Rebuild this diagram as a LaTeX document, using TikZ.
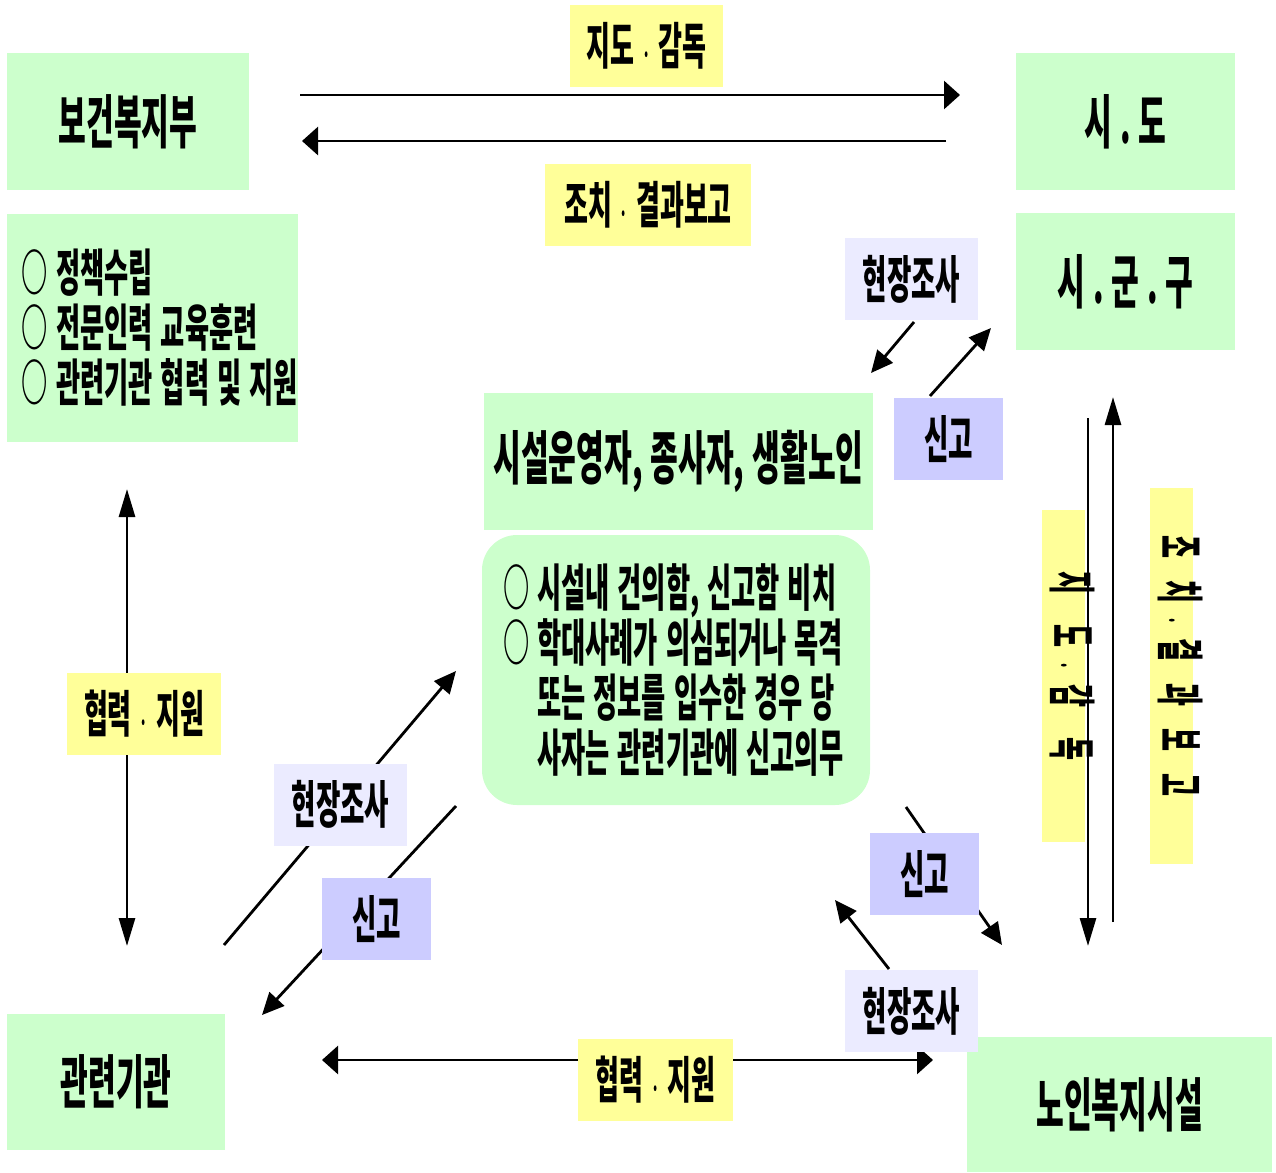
\documentclass[tikz,border=0pt]{standalone}
\usepackage{fontspec}
\newfontfamily\kr{Noto Sans CJK KR}[FakeStretch=0.52]
\usetikzlibrary{arrows.meta}
\definecolor{bgreen}{HTML}{CCFFCC}
\definecolor{lyellow}{HTML}{FFFF99}
\definecolor{lviolet}{HTML}{EBEBFF}
\definecolor{mviolet}{HTML}{CCCCFF}
\newcommand\kdot{{\fontsize{26bp}{26bp}\selectfont ·}}
\newcommand\ksp{\hspace{8bp}}
\begin{document}
\begin{tikzpicture}[x=1bp,y=-1bp,
  gbox/.style={fill=bgreen,draw=none,inner sep=0pt,align=center,
    font=\kr\bfseries\fontsize{58bp}{62bp}\selectfont},
  ylab/.style={fill=lyellow,draw=none,inner sep=0pt,minimum height=82bp,
    font=\kr\bfseries\fontsize{50bp}{54bp}\selectfont},
  hjlab/.style={fill=lviolet,draw=none,inner sep=0pt,minimum width=133bp,minimum height=82bp,
    font=\kr\bfseries\fontsize{51bp}{54bp}\selectfont},
  sglab/.style={fill=mviolet,draw=none,inner sep=0pt,minimum width=109bp,minimum height=82bp,
    font=\kr\bfseries\fontsize{51bp}{54bp}\selectfont},
  yvlab/.style={fill=lyellow,draw=none,inner sep=0pt,rotate=-90,minimum height=43bp,
    text height=20bp,text depth=1bp,
    font=\kr\bfseries\fontsize{48bp}{50bp}\selectfont},
  harrow/.style={line width=2.8bp,-{Triangle[length=16bp,width=28bp]}},
  hdarrow/.style={line width=2.8bp,{Triangle[length=16bp,width=28bp]}-{Triangle[length=16bp,width=28bp]}},
  varrow/.style={line width=2.8bp,-{Triangle[length=28bp,width=16bp]}},
  vdarrow/.style={line width=2.8bp,{Triangle[length=28bp,width=16bp]}-{Triangle[length=28bp,width=16bp]}},
  darrow/.style={line width=2.8bp,-{Triangle[length=22bp,width=20bp]}}
]
\useasboundingbox (0,0) rectangle (1276,1173);

% main boxes
\node[gbox,minimum width=242bp,minimum height=137bp] (mohw) at (128,121.5) {보건복지부};
\node[gbox,minimum width=219bp,minimum height=137bp] (sido) at (1125.5,121.5) {시\ksp.\ksp 도};
\node[gbox,minimum width=219bp,minimum height=137bp] (sgg) at (1125.5,281.5) {시\ksp.\ksp 군\ksp.\ksp 구};
\node[gbox,minimum width=291bp,minimum height=228bp,text width=261bp,align=left,
  font=\kr\bfseries\fontsize{50.5bp}{55bp}\selectfont] (policy) at (152.5,328)
  {\mbox{○\ksp 정책수립}\\ \mbox{○\ksp 전문인력\ksp 교육훈련}\\ \mbox{○\ksp 관련기관\ksp 협력\ksp 및\ksp 지원}};
\node[gbox,minimum width=389bp,minimum height=137bp] (staff) at (678.5,461.5) {시설운영자,\ksp 종사자,\ksp 생활노인};
\node[gbox,rounded corners=35bp,minimum width=388bp,minimum height=270bp,text width=346bp,align=left,
  font=\kr\bfseries\fontsize{50.5bp}{55bp}\selectfont] (duty) at (676,670)
  {\mbox{○\ksp 시설내\ksp 건의함,\ksp 신고함\ksp 비치}\\ \mbox{○\ksp 학대사례가\ksp 의심되거나\ksp 목격}\\
   \mbox{\phantom{○}\ksp 또는\ksp 정보를\ksp 입수한\ksp 경우\ksp 당}\\ \mbox{\phantom{○}\ksp 사자는\ksp 관련기관에\ksp 신고의무}};
\node[gbox,minimum width=218bp,minimum height=136bp] (agency) at (116,1082) {관련기관};
\node[gbox,minimum width=305bp,minimum height=135bp] (facility) at (1119.5,1104.5) {노인복지시설};

% connector end points
\coordinate (t1s) at (300,95);   \coordinate (t1e) at (960,95);
\coordinate (t2s) at (946,141);  \coordinate (t2e) at (302,141);
\coordinate (r1s) at (914,322);  \coordinate (r1e) at (871,373);
\coordinate (r2s) at (930,396);  \coordinate (r2e) at (991,328);
\coordinate (v1s) at (1088,418); \coordinate (v1e) at (1088,946);
\coordinate (v2s) at (1113,922); \coordinate (v2e) at (1113,397);
\coordinate (l1s) at (127,489);  \coordinate (l1e) at (127,946);
\coordinate (d1s) at (224,945);  \coordinate (d1e) at (456,671);
\coordinate (d2s) at (456,806);  \coordinate (d2e) at (262,1015);
\coordinate (b1s) at (322,1060); \coordinate (b1e) at (933,1060);
\coordinate (e1s) at (906,807);  \coordinate (e1e) at (1002,945);
\coordinate (e2s) at (889,969);  \coordinate (e2e) at (835,900);

% connectors
\draw[harrow] (t1s) -- (t1e);
\draw[harrow] (t2s) -- (t2e);
\draw[darrow] (r1s) -- (r1e);
\draw[darrow] (r2s) -- (r2e);
\draw[varrow] (v1s) -- (v1e);
\draw[varrow] (v2s) -- (v2e);
\draw[vdarrow] (l1s) -- (l1e);
\draw[darrow] (d1s) -- (d1e);
\draw[darrow] (d2s) -- (d2e);
\draw[hdarrow] (b1s) -- (b1e);
\draw[darrow] (e1s) -- (e1e);
\draw[darrow] (e2s) -- (e2e);

% labels
\node[ylab,minimum width=153bp] (lbl1) at (646.5,45.5) {지도\ksp\kdot\ksp 감독};
\node[ylab,minimum width=206bp] (lbl2) at (648,205) {조치\ksp\kdot\ksp 결과보고};
\node[hjlab] (hj1) at (911.5,279) {현장조사};
\node[sglab] (sg1) at (948.5,439) {신고};
\node[yvlab,minimum width=332bp] (yv1) at (1063.5,676)
  {지\hspace{30bp}도\hspace{14bp}\kdot\hspace{14bp}감\hspace{30bp}독\hspace*{20bp}};
\node[yvlab,minimum width=376bp] (yv2) at (1171.5,676)
  {조\hspace{22bp}치\hspace{13bp}\kdot\hspace{13bp}결\hspace{22bp}과\hspace{22bp}보\hspace{22bp}고\hspace*{20bp}};
\node[ylab,minimum width=154bp] (lbl3) at (144,714) {협력\ksp\kdot\ksp 지원};
\node[hjlab] (hj2) at (340.5,804.5) {현장조사};
\node[sglab] (sg2) at (376.5,919) {신고};
\node[sglab] (sg3) at (924.5,874) {신고};
\node[hjlab] (hj3) at (911.5,1011) {현장조사};
\node[ylab,minimum width=155bp] (lbl4) at (655.5,1079.5) {협력\ksp\kdot\ksp 지원};
\end{tikzpicture}
\end{document}
